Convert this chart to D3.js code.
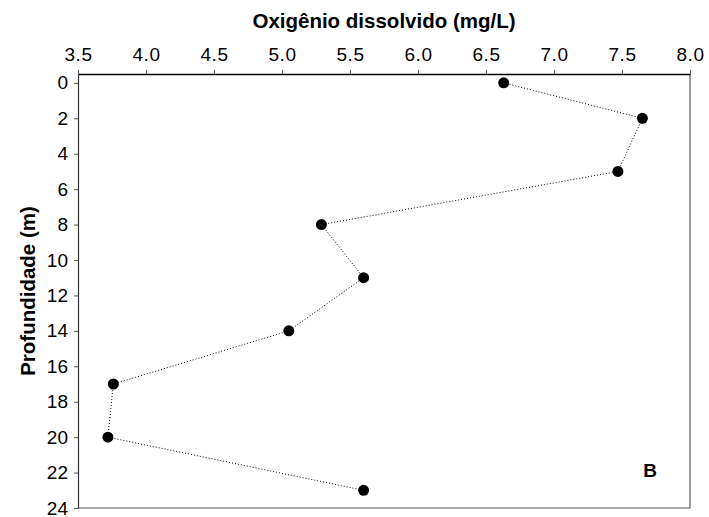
<!DOCTYPE html>
<html>
<head>
<meta charset="utf-8">
<script src="https://cdn.jsdelivr.net/npm/d3@7"></script>
<style>
  html, body { margin: 0; padding: 0; background: #fff; }
  svg { display: block; font-family: "Liberation Sans", Arial, sans-serif; }
</style>
</head>
<body>
<svg id="chart" width="709" height="517"></svg>
<script>
// Dissolved oxygen profile (mg/L) by depth (m)
const depths = [0, 2, 5, 8, 11, 14, 17, 20, 23];
const oxygen = [6.63, 7.65, 7.47, 5.29, 5.60, 5.05, 3.76, 3.72, 5.60];
const xTicks = [3.5, 4.0, 4.5, 5.0, 5.5, 6.0, 6.5, 7.0, 7.5, 8.0];
const yTicks = [0, 2, 4, 6, 8, 10, 12, 14, 16, 18, 20, 22, 24];
const xTitle = "Oxigênio dissolvido (mg/L)";
const yTitle = "Profundidade (m)";
const panelLabel = "B";

const svg = d3.select("#chart");
const plotL = 78, plotR = 690, plotT = 74, plotB = 508;

const x = d3.scaleLinear().domain([3.5, 8.0]).range([plotL, plotR]);
const y = d3.scaleLinear().domain([-0.5, 24]).range([plotT, plotB]);

// Right and bottom frame lines
svg.append("line").attr("x1", plotR).attr("x2", plotR).attr("y1", plotT).attr("y2", plotB)
  .attr("stroke", "#555").attr("stroke-width", 1.2);
svg.append("line").attr("x1", plotL).attr("x2", plotR).attr("y1", plotB).attr("y2", plotB)
  .attr("stroke", "#555").attr("stroke-width", 1.2);

// Top axis
const xAxis = svg.append("g").attr("transform", `translate(0,${plotT})`)
  .call(d3.axisTop(x).tickValues(xTicks).tickFormat(d3.format(".1f")).tickSize(4).tickSizeOuter(0).tickPadding(9));
xAxis.select(".domain").attr("stroke", "#000").attr("stroke-width", 1.3);
xAxis.selectAll(".tick line").attr("stroke", "#555");
xAxis.selectAll("text").attr("font-size", 19).attr("fill", "#000").attr("letter-spacing", 0.6);

// Left axis
const yAxis = svg.append("g").attr("transform", `translate(${plotL},0)`)
  .call(d3.axisLeft(y).tickValues(yTicks).tickSize(4).tickSizeOuter(0).tickPadding(6));
yAxis.select(".domain").attr("stroke", "#333").attr("stroke-width", 1.2);
yAxis.selectAll(".tick line").attr("stroke", "#555");
yAxis.selectAll("text").attr("font-size", 19).attr("fill", "#000");

// Axis titles
svg.append("text").attr("x", 384).attr("y", 27.5)
  .attr("text-anchor", "middle").attr("font-size", 20.5).attr("font-weight", "bold")
  .text(xTitle);
svg.append("text").attr("transform", `translate(35,${(plotT + plotB) / 2}) rotate(-90)`)
  .attr("text-anchor", "middle").attr("font-size", 20.5).attr("font-weight", "bold")
  .text(yTitle);

// Profile line
const pts = depths.map((d, i) => ({ depth: d, ox: oxygen[i] }));
svg.append("path").datum(pts)
  .attr("fill", "none").attr("stroke", "#000").attr("stroke-width", 1)
  .attr("stroke-dasharray", "1,2")
  .attr("d", d3.line().x(d => x(d.ox)).y(d => y(d.depth)));

// Markers
svg.selectAll("circle.pt").data(pts).enter().append("circle")
  .attr("class", "pt").attr("cx", d => x(d.ox)).attr("cy", d => y(d.depth))
  .attr("r", 5.5).attr("fill", "#000");

// Panel label
svg.append("text").attr("x", 650).attr("y", 477)
  .attr("text-anchor", "middle").attr("font-size", 19).attr("font-weight", "bold")
  .text(panelLabel);
</script>
</body>
</html>
